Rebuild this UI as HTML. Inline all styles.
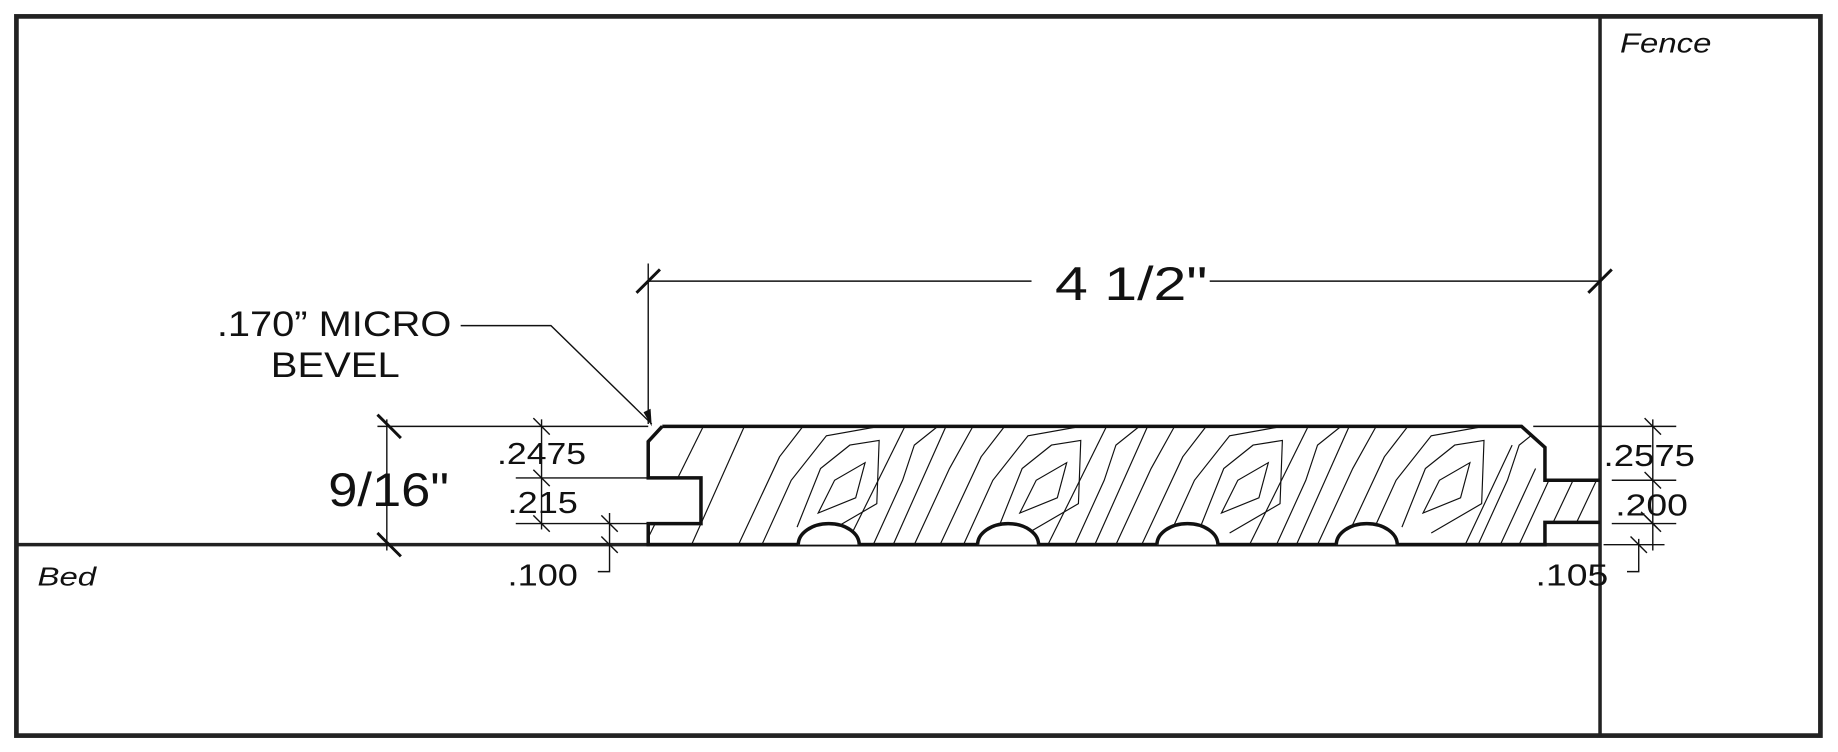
<!DOCTYPE html>
<html><head><meta charset="utf-8"><style>
html,body{margin:0;padding:0;background:#fff;}
svg{display:block;}
text{font-family:"Liberation Sans",Arial,sans-serif;fill:#111;}
</style></head><body>
<svg width="1838" height="752" viewBox="0 0 1568 642" preserveAspectRatio="none" xmlns="http://www.w3.org/2000/svg">
<rect x="0" y="0" width="1568" height="642" fill="#fff"/>
<rect x="14" y="14" width="1539" height="614" fill="none" stroke="#222" stroke-width="4"/>
<line x1="1365" y1="14" x2="1365" y2="628" stroke="#222" stroke-width="3"/>
<line x1="14" y1="465" x2="1365" y2="465" stroke="#222" stroke-width="3"/>
<text x="1382" y="45" font-size="24" font-style="italic" textLength="78" lengthAdjust="spacingAndGlyphs">Fence</text>
<text x="32" y="500" font-size="22" font-style="italic" textLength="50" lengthAdjust="spacingAndGlyphs">Bed</text>

<defs><clipPath id="bd"><path d="M565,364 L1298,364 L1318,382 L1318,410 L1365,410 L1365,446 L1318,446 L1318,465 L553,465 L553,447 L598,447 L598,408 L553,408 L553,377 Z"/></clipPath></defs>
<g clip-path="url(#bd)" stroke="#111" stroke-width="1" fill="none">
<g id="gr">
<path d="M550,465 L600,364"/><path d="M590,465 L635,364"/><path d="M630,465 L665,390 L685,364"/>
<path d="M650,465 L675,410 L705,372 L750,364"/>
<path d="M680,450 L700,400 L725,380 L750,376 L748,430 L705,455"/>
<path d="M698,438 L712,410 L738,395 L730,425 Z"/>
<path d="M745,465 L770,410 L780,380 L800,364"/><path d="M780,465 L810,400 L830,364"/>
</g>
<use href="#gr" x="172"/><use href="#gr" x="344"/><use href="#gr" x="516"/>
<path d="M1250,465 L1290,380"/><path d="M1280,465 L1310,400"/><path d="M1325,446 L1342,410"/><path d="M1345,446 L1362,410"/>
</g>
<path d="M565,364 L1298,364 L1318,382 L1318,410 L1365,410 M1365,446 L1318,446 L1318,465 L553,465 L553,447 L598,447 L598,408 L553,408 L553,377 L565,364" fill="none" stroke="#111" stroke-width="3"/>
<g fill="#fff" stroke="#111" stroke-width="3">
<path d="M681,465 A26,18 0 0 1 733,465"/><path d="M834,465 A26,18 0 0 1 886,465"/><path d="M987,465 A26,18 0 0 1 1039,465"/><path d="M1140,465 A26,18 0 0 1 1192,465"/>
</g>

<g stroke="#111" stroke-width="1.2" fill="none">
<line x1="553" y1="225" x2="553" y2="362"/>
<line x1="553" y1="240" x2="880" y2="240"/><line x1="1032" y1="240" x2="1365" y2="240"/>
<line x1="1308" y1="364" x2="1430" y2="364"/><line x1="1375" y1="410" x2="1430" y2="410"/><line x1="1375" y1="447" x2="1430" y2="447"/><line x1="1368" y1="465" x2="1420" y2="465"/>
<line x1="1410" y1="358" x2="1410" y2="470"/>
<path d="M1388,488 L1398,488 L1398,460"/>
<line x1="322" y1="364" x2="553" y2="364"/>
<line x1="330" y1="358" x2="330" y2="470"/>
<line x1="440" y1="408" x2="553" y2="408"/><line x1="440" y1="447" x2="553" y2="447"/>
<line x1="462" y1="358" x2="462" y2="452"/>
<path d="M510,488 L520,488 L520,438"/>
<path d="M393,278 L470,278 L556,362"/>
</g>
<path d="M556,364 L549,352 L555,349 Z" fill="#111"/>
<g stroke="#111" stroke-width="2.5">
<line x1="543" y1="250" x2="563" y2="230"/><line x1="1355" y1="250" x2="1375" y2="230"/>
<line x1="322" y1="354" x2="342" y2="374"/><line x1="322" y1="455" x2="342" y2="475"/>
</g>
<g stroke="#111" stroke-width="1.2">
<line x1="455" y1="357" x2="469" y2="371"/><line x1="455" y1="401" x2="469" y2="415"/><line x1="455" y1="440" x2="469" y2="454"/>
<line x1="513" y1="440" x2="527" y2="454"/><line x1="513" y1="458" x2="527" y2="472"/>
<line x1="1403" y1="357" x2="1417" y2="371"/><line x1="1403" y1="403" x2="1417" y2="417"/><line x1="1400" y1="437" x2="1414" y2="451"/><line x1="1403" y1="440" x2="1417" y2="454"/><line x1="1391" y1="458" x2="1405" y2="472"/>
</g>

<text x="900" y="256" font-size="40" textLength="130" lengthAdjust="spacingAndGlyphs">4 1/2"</text>
<text x="185" y="287" font-size="30" textLength="200" lengthAdjust="spacingAndGlyphs">.170” MICRO</text>
<text x="231" y="322" font-size="30" textLength="110" lengthAdjust="spacingAndGlyphs">BEVEL</text>
<text x="280" y="432" font-size="40" textLength="103" lengthAdjust="spacingAndGlyphs">9/16"</text>
<text x="424" y="396" font-size="26" textLength="76" lengthAdjust="spacingAndGlyphs">.2475</text>
<text x="433" y="438" font-size="26" textLength="60" lengthAdjust="spacingAndGlyphs">.215</text>
<text x="433" y="500" font-size="26" textLength="60" lengthAdjust="spacingAndGlyphs">.100</text>
<text x="1368" y="398" font-size="26" textLength="78" lengthAdjust="spacingAndGlyphs">.2575</text>
<text x="1378" y="440" font-size="26" textLength="62" lengthAdjust="spacingAndGlyphs">.200</text>
<text x="1310" y="500" font-size="26" textLength="62" lengthAdjust="spacingAndGlyphs">.105</text>
</svg>
</body></html>
